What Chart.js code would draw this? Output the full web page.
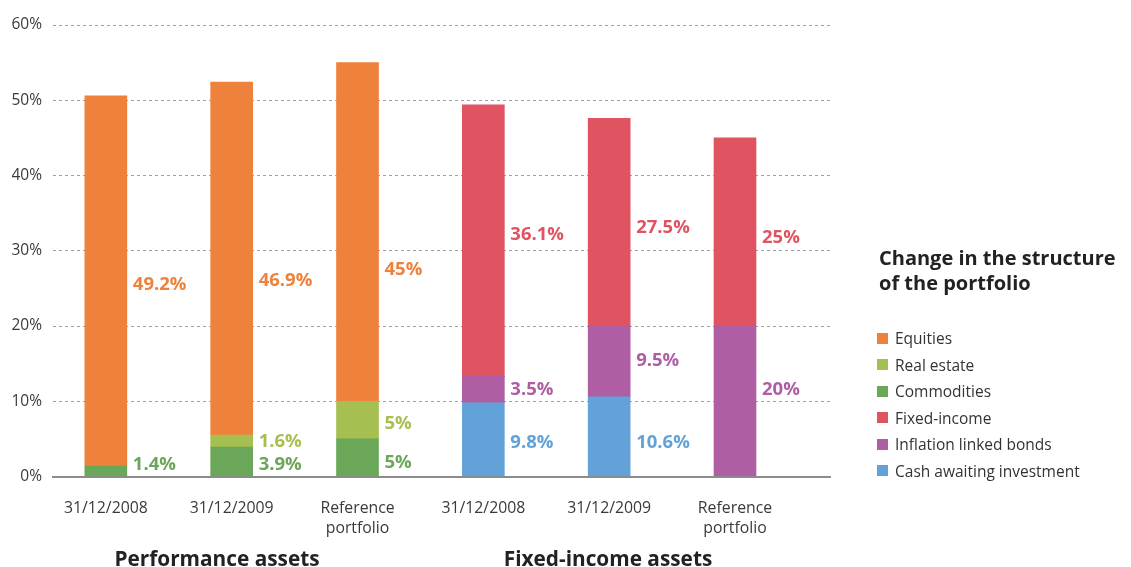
<!DOCTYPE html>
<html><head><meta charset="utf-8">
<script src="https://cdn.jsdelivr.net/npm/chart.js@4"></script>
<style>
html,body{margin:0;padding:0;background:#fff;}
#wrap{position:relative;width:1131px;height:567px;font-family:"Open Sans",sans-serif;overflow:hidden;}
canvas{position:absolute;left:0;top:0;}
.group{position:absolute;top:545px;font-weight:700;font-size:20.8px;color:#222;transform:translateX(-50%);white-space:nowrap;line-height:26px;}
#legendTitle{position:absolute;left:879px;top:245px;font-weight:700;font-size:20px;line-height:25px;color:#222;white-space:nowrap;}
#legend{position:absolute;left:877px;top:325px;}
.item{height:26.6px;line-height:26px;font-size:15.5px;color:#333;white-space:nowrap;position:relative;padding-left:18px;}
.item span.sw{position:absolute;left:0;top:7.5px;width:11px;height:11px;}
</style>
</head><body>
<div id="wrap">
<canvas id="c" width="1131" height="567"></canvas>
<div id="g0" class="group"></div>
<div id="g1" class="group"></div>
<div id="legendTitle"></div>
<div id="legend"></div>
</div>
<script>
// ---- data ----
const categories = ['31/12/2008','31/12/2009',['Reference','portfolio'],'31/12/2008','31/12/2009',['Reference','portfolio']];
const groupTitles = ['Performance assets','Fixed-income assets'];
const legendTitle = ['Change in the structure','of the portfolio'];
const seriesNames = ['Equities','Real estate','Commodities','Fixed-income','Inflation linked bonds','Cash awaiting investment'];
const equities        = [49.2, 46.9, 45, null, null, null];
const realEstate      = [null, 1.6, 5, null, null, null];
const commodities     = [1.4, 3.9, 5, null, null, null];
const fixedIncome     = [null, null, null, 36.1, 27.5, 25];
const inflationLinked = [null, null, null, 3.5, 9.5, 20];
const cash            = [null, null, null, 9.8, 10.6, null];
const yTicks = [0, 10, 20, 30, 40, 50, 60];

// ---- styles ----
const colors = {
  'Equities':'#EE823C','Real estate':'#A5BF50','Commodities':'#6AA758',
  'Fixed-income':'#E05360','Inflation linked bonds':'#B05EA4','Cash awaiting investment':'#63A2D8'
};
const labelNudge = {
  'Commodities':[-6,3,5],
  'Real estate':[0,1,4],
  'Equities':[4,22,38],
  'Fixed-income':[0,0,0,-6,6,6],
  'Inflation linked bonds':[0,0,0,0,0,-11],
  'Cash awaiting investment':[0,0,0,3,6,0]
};
const FONT = '"Open Sans", sans-serif';

// stacking order bottom -> top
const stackOrder = [
  ['Commodities', commodities], ['Real estate', realEstate], ['Equities', equities],
  ['Cash awaiting investment', cash], ['Inflation linked bonds', inflationLinked], ['Fixed-income', fixedIncome]
];
const datasets = stackOrder.map(([name, vals]) => ({
  label: name,
  data: vals.map((v, i) => ({x: i, y: v})),
  backgroundColor: colors[name],
  borderWidth: 0,
  barThickness: 42,
  stack: 's'
}));

const segLabels = {
  id: 'segLabels',
  afterDatasetsDraw(chart) {
    const ctx = chart.ctx;
    ctx.save();
    ctx.font = '700 18.5px ' + FONT;
    ctx.textBaseline = 'middle';
    ctx.textAlign = 'left';
    chart.data.datasets.forEach((ds, di) => {
      const meta = chart.getDatasetMeta(di);
      meta.data.forEach((el, i) => {
        const v = ds.data[i].y;
        if (v == null) return;
        const n = (labelNudge[ds.label] || [])[i] || 0;
        ctx.fillStyle = ds.backgroundColor;
        ctx.fillText(v + '%', el.x + el.width / 2 + 6, (el.y + el.base) / 2 + n);
      });
    });
    ctx.restore();
  }
};

const chart = new Chart(document.getElementById('c'), {
  type: 'bar',
  data: {datasets},
  options: {
    responsive: false,
    animation: false,
    devicePixelRatio: 1,
    layout: {padding: {left: 12, right: 301, top: 25, bottom: 7}},
    plugins: {legend: {display: false}, tooltip: {enabled: false}},
    scales: {
      x: {
        type: 'linear', stacked: true, min: -0.42, max: 5.755, offset: false,
        afterBuildTicks: s => { s.ticks = categories.map((c, i) => ({value: i})); },
        ticks: {
          callback: v => categories[v], autoSkip: false, maxRotation: 0, minRotation: 0,
          padding: 22, color: '#3a3a3a', font: {family: FONT, size: 15.8, lineHeight: 1.25}
        },
        grid: {display: false, drawTicks: false},
        border: {display: true, color: '#8c8c8c', width: 2}
      },
      y: {
        stacked: true, min: 0, max: 60,
        afterBuildTicks: s => { s.ticks = yTicks.map(v => ({value: v})); },
        afterFit: s => { s.width = 41; },
        ticks: {callback: v => v + '%', padding: 11, color: '#3a3a3a', font: {family: FONT, size: 15.5}},
        grid: {color: c => (c.tick && c.tick.value === 0) ? 'rgba(0,0,0,0)' : '#a0a0a0', lineWidth: 1, drawTicks: false},
        border: {display: false, dash: [3, 3]}
      }
    }
  },
  plugins: [segLabels]
});

// group titles & legend (HTML text)
document.getElementById('g0').textContent = groupTitles[0];
document.getElementById('g0').style.left = '217px';
document.getElementById('g1').textContent = groupTitles[1];
document.getElementById('g1').style.left = '608px';
document.getElementById('legendTitle').innerHTML = legendTitle.join('<br>');
const lg = document.getElementById('legend');
seriesNames.forEach(n => {
  const d = document.createElement('div');
  d.className = 'item';
  const sw = document.createElement('span');
  sw.className = 'sw';
  sw.style.background = colors[n];
  d.appendChild(sw);
  d.appendChild(document.createTextNode(n));
  lg.appendChild(d);
});
</script>
</body></html>
